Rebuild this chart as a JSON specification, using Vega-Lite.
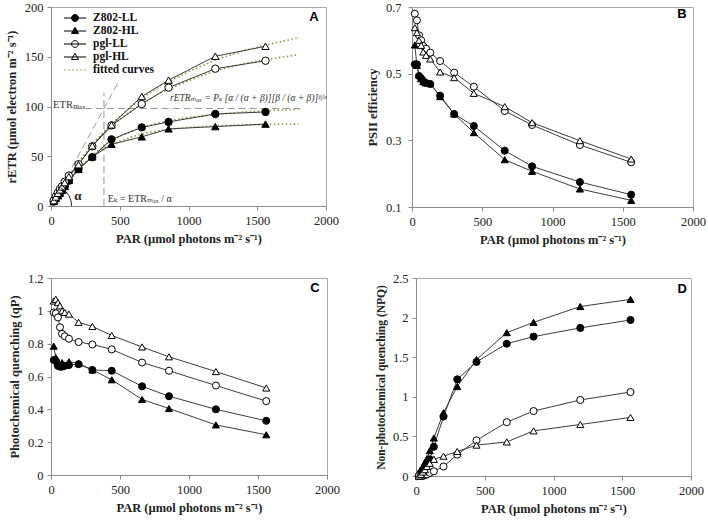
{
  "$schema": "https://vega.github.io/schema/vega-lite/v6.json",
  "padding": {"left": 4, "top": 0, "right": 2, "bottom": 2},
  "background": "white",
  "spacing": 24,
  "config": {
    "font": "Liberation Serif",
    "view": {"stroke": "#a8a8a8", "strokeWidth": 1},
    "axis": {
      "grid": false,
      "domainColor": "#8a8a8a",
      "tickColor": "#8a8a8a",
      "tickSize": 4,
      "labelFont": "Liberation Serif",
      "labelFontSize": 12.5,
      "labelColor": "#222222",
      "labelPadding": 4,
      "labelOverlap": false,
      "labelFlush": false,
      "titleFont": "Liberation Serif",
      "titleFontSize": 12.5,
      "titleFontWeight": "bold",
      "titleColor": "#222222",
      "titlePadding": 6
    },
    "axisX": {"labelFont": "Liberation Serif", "labelOverlap": false, "labelFlush": false},
    "axisY": {"labelFont": "Liberation Serif", "labelOverlap": false},
    "legend": {"padding": 0}
  },
  "datasets": {
    "obs": [
      {"series": "Z802-LL", "par": 20, "etr": 4.5, "phi": 0.528, "qp": 0.70, "npq": 0.0},
      {"series": "Z802-LL", "par": 35, "etr": 7.7, "phi": 0.528, "qp": 0.695, "npq": 0.04},
      {"series": "Z802-LL", "par": 50, "etr": 10.4, "phi": 0.493, "qp": 0.665, "npq": 0.08},
      {"series": "Z802-LL", "par": 65, "etr": 13.3, "phi": 0.486, "qp": 0.66, "npq": 0.12},
      {"series": "Z802-LL", "par": 80, "etr": 16, "phi": 0.478, "qp": 0.66, "npq": 0.16},
      {"series": "Z802-LL", "par": 100, "etr": 19.7, "phi": 0.472, "qp": 0.665, "npq": 0.21},
      {"series": "Z802-LL", "par": 130, "etr": 25.5, "phi": 0.469, "qp": 0.67, "npq": 0.37},
      {"series": "Z802-LL", "par": 200, "etr": 37, "phi": 0.434, "qp": 0.675, "npq": 0.75},
      {"series": "Z802-LL", "par": 300, "etr": 49, "phi": 0.379, "qp": 0.64, "npq": 1.22},
      {"series": "Z802-LL", "par": 440, "etr": 67, "phi": 0.343, "qp": 0.635, "npq": 1.44},
      {"series": "Z802-LL", "par": 660, "etr": 79, "phi": 0.269, "qp": 0.54, "npq": 1.67},
      {"series": "Z802-LL", "par": 855, "etr": 84.5, "phi": 0.222, "qp": 0.48, "npq": 1.76},
      {"series": "Z802-LL", "par": 1195, "etr": 92.5, "phi": 0.175, "qp": 0.40, "npq": 1.87},
      {"series": "Z802-LL", "par": 1560, "etr": 94.5, "phi": 0.137, "qp": 0.33, "npq": 1.97},
      {"series": "Z802-HL", "par": 20, "etr": 4.9, "phi": 0.586, "qp": 0.785, "npq": 0.0},
      {"series": "Z802-HL", "par": 35, "etr": 7.6, "phi": 0.525, "qp": 0.715, "npq": 0.05},
      {"series": "Z802-HL", "par": 50, "etr": 10.4, "phi": 0.496, "qp": 0.68, "npq": 0.10},
      {"series": "Z802-HL", "par": 65, "etr": 13, "phi": 0.485, "qp": 0.665, "npq": 0.17},
      {"series": "Z802-HL", "par": 80, "etr": 15.8, "phi": 0.476, "qp": 0.685, "npq": 0.22},
      {"series": "Z802-HL", "par": 100, "etr": 19.7, "phi": 0.472, "qp": 0.67, "npq": 0.32},
      {"series": "Z802-HL", "par": 130, "etr": 25.7, "phi": 0.470, "qp": 0.69, "npq": 0.48},
      {"series": "Z802-HL", "par": 200, "etr": 37, "phi": 0.431, "qp": 0.68, "npq": 0.80},
      {"series": "Z802-HL", "par": 300, "etr": 49.5, "phi": 0.379, "qp": 0.64, "npq": 1.13},
      {"series": "Z802-HL", "par": 440, "etr": 62, "phi": 0.323, "qp": 0.58, "npq": 1.47},
      {"series": "Z802-HL", "par": 660, "etr": 69.5, "phi": 0.242, "qp": 0.46, "npq": 1.81},
      {"series": "Z802-HL", "par": 855, "etr": 77.5, "phi": 0.207, "qp": 0.405, "npq": 1.94},
      {"series": "Z802-HL", "par": 1195, "etr": 79.8, "phi": 0.154, "qp": 0.305, "npq": 2.14},
      {"series": "Z802-HL", "par": 1560, "etr": 82.3, "phi": 0.120, "qp": 0.245, "npq": 2.23},
      {"series": "pgl-LL", "par": 20, "etr": 5.7, "phi": 0.680, "qp": 0.99, "npq": 0.0},
      {"series": "pgl-LL", "par": 35, "etr": 9.7, "phi": 0.660, "qp": 0.985, "npq": 0.0},
      {"series": "pgl-LL", "par": 50, "etr": 13.5, "phi": 0.615, "qp": 0.96, "npq": 0.0},
      {"series": "pgl-LL", "par": 65, "etr": 17, "phi": 0.600, "qp": 0.90, "npq": 0.01},
      {"series": "pgl-LL", "par": 80, "etr": 19.8, "phi": 0.583, "qp": 0.86, "npq": 0.02},
      {"series": "pgl-LL", "par": 100, "etr": 24.5, "phi": 0.575, "qp": 0.845, "npq": 0.04},
      {"series": "pgl-LL", "par": 130, "etr": 30.5, "phi": 0.563, "qp": 0.83, "npq": 0.06},
      {"series": "pgl-LL", "par": 200, "etr": 42, "phi": 0.538, "qp": 0.81, "npq": 0.12},
      {"series": "pgl-LL", "par": 300, "etr": 60, "phi": 0.503, "qp": 0.795, "npq": 0.27},
      {"series": "pgl-LL", "par": 440, "etr": 81, "phi": 0.461, "qp": 0.765, "npq": 0.45},
      {"series": "pgl-LL", "par": 660, "etr": 102.5, "phi": 0.388, "qp": 0.685, "npq": 0.68},
      {"series": "pgl-LL", "par": 855, "etr": 119, "phi": 0.346, "qp": 0.635, "npq": 0.82},
      {"series": "pgl-LL", "par": 1195, "etr": 138, "phi": 0.286, "qp": 0.545, "npq": 0.96},
      {"series": "pgl-LL", "par": 1560, "etr": 146, "phi": 0.234, "qp": 0.45, "npq": 1.06},
      {"series": "pgl-HL", "par": 20, "etr": 5.4, "phi": 0.638, "qp": 1.06, "npq": 0.0},
      {"series": "pgl-HL", "par": 35, "etr": 9.1, "phi": 0.623, "qp": 1.07, "npq": 0.02},
      {"series": "pgl-HL", "par": 50, "etr": 12.8, "phi": 0.600, "qp": 1.05, "npq": 0.05},
      {"series": "pgl-HL", "par": 65, "etr": 16.2, "phi": 0.585, "qp": 1.03, "npq": 0.08},
      {"series": "pgl-HL", "par": 80, "etr": 19.2, "phi": 0.565, "qp": 1.0, "npq": 0.12},
      {"series": "pgl-HL", "par": 100, "etr": 23.5, "phi": 0.555, "qp": 0.99, "npq": 0.16},
      {"series": "pgl-HL", "par": 130, "etr": 29.5, "phi": 0.544, "qp": 0.98, "npq": 0.21},
      {"series": "pgl-HL", "par": 200, "etr": 41.5, "phi": 0.505, "qp": 0.93, "npq": 0.25},
      {"series": "pgl-HL", "par": 300, "etr": 60.5, "phi": 0.488, "qp": 0.905, "npq": 0.31},
      {"series": "pgl-HL", "par": 440, "etr": 81.5, "phi": 0.441, "qp": 0.85, "npq": 0.39},
      {"series": "pgl-HL", "par": 660, "etr": 110, "phi": 0.401, "qp": 0.78, "npq": 0.43},
      {"series": "pgl-HL", "par": 855, "etr": 126.5, "phi": 0.353, "qp": 0.72, "npq": 0.57},
      {"series": "pgl-HL", "par": 1195, "etr": 150.5, "phi": 0.299, "qp": 0.63, "npq": 0.65},
      {"series": "pgl-HL", "par": 1560, "etr": 160.5, "phi": 0.244, "qp": 0.53, "npq": 0.74}
    ],
    "fit": [
      {"series": "Z802-LL", "par": 0, "fit": 0}, {"series": "Z802-LL", "par": 100, "fit": 19.5}, {"series": "Z802-LL", "par": 200, "fit": 37}, {"series": "Z802-LL", "par": 300, "fit": 51}, {"series": "Z802-LL", "par": 400, "fit": 62}, {"series": "Z802-LL", "par": 500, "fit": 70}, {"series": "Z802-LL", "par": 600, "fit": 76}, {"series": "Z802-LL", "par": 700, "fit": 80.5}, {"series": "Z802-LL", "par": 800, "fit": 84}, {"series": "Z802-LL", "par": 1000, "fit": 89}, {"series": "Z802-LL", "par": 1200, "fit": 92}, {"series": "Z802-LL", "par": 1400, "fit": 94.5}, {"series": "Z802-LL", "par": 1600, "fit": 96}, {"series": "Z802-LL", "par": 1800, "fit": 97},
      {"series": "Z802-HL", "par": 0, "fit": 0}, {"series": "Z802-HL", "par": 100, "fit": 19.5}, {"series": "Z802-HL", "par": 200, "fit": 37}, {"series": "Z802-HL", "par": 300, "fit": 50}, {"series": "Z802-HL", "par": 400, "fit": 59}, {"series": "Z802-HL", "par": 500, "fit": 65}, {"series": "Z802-HL", "par": 600, "fit": 70}, {"series": "Z802-HL", "par": 700, "fit": 73.5}, {"series": "Z802-HL", "par": 800, "fit": 76}, {"series": "Z802-HL", "par": 1000, "fit": 79}, {"series": "Z802-HL", "par": 1200, "fit": 80.5}, {"series": "Z802-HL", "par": 1400, "fit": 81.5}, {"series": "Z802-HL", "par": 1600, "fit": 82}, {"series": "Z802-HL", "par": 1800, "fit": 82.3},
      {"series": "pgl-LL", "par": 0, "fit": 0}, {"series": "pgl-LL", "par": 100, "fit": 24}, {"series": "pgl-LL", "par": 200, "fit": 44}, {"series": "pgl-LL", "par": 300, "fit": 61}, {"series": "pgl-LL", "par": 400, "fit": 75}, {"series": "pgl-LL", "par": 500, "fit": 87}, {"series": "pgl-LL", "par": 600, "fit": 97}, {"series": "pgl-LL", "par": 700, "fit": 106}, {"series": "pgl-LL", "par": 800, "fit": 114}, {"series": "pgl-LL", "par": 1000, "fit": 126}, {"series": "pgl-LL", "par": 1200, "fit": 136}, {"series": "pgl-LL", "par": 1400, "fit": 143}, {"series": "pgl-LL", "par": 1600, "fit": 148}, {"series": "pgl-LL", "par": 1800, "fit": 152},
      {"series": "pgl-HL", "par": 0, "fit": 0}, {"series": "pgl-HL", "par": 100, "fit": 24}, {"series": "pgl-HL", "par": 200, "fit": 44}, {"series": "pgl-HL", "par": 300, "fit": 62}, {"series": "pgl-HL", "par": 400, "fit": 77}, {"series": "pgl-HL", "par": 500, "fit": 90}, {"series": "pgl-HL", "par": 600, "fit": 102}, {"series": "pgl-HL", "par": 700, "fit": 112}, {"series": "pgl-HL", "par": 800, "fit": 121}, {"series": "pgl-HL", "par": 1000, "fit": 135}, {"series": "pgl-HL", "par": 1200, "fit": 147}, {"series": "pgl-HL", "par": 1400, "fit": 156}, {"series": "pgl-HL", "par": 1600, "fit": 163}, {"series": "pgl-HL", "par": 1800, "fit": 169}
    ],
    "guides": [
      {"par": 165, "g": 98, "par2": 1830, "g2": 98},
      {"par": 385, "g": 0, "par2": 385, "g2": 114},
      {"par": 0, "g": 0, "par2": 495, "g2": 126}
    ],
    "arc": [
      {"k": 1, "par": 150.5, "a": 0},
      {"k": 2, "par": 145.4, "a": 5.4},
      {"k": 3, "par": 130.4, "a": 10.4},
      {"k": 4, "par": 106.4, "a": 14.7},
      {"k": 5, "par": 72, "a": 18.3}
    ]
  },
  "vconcat": [
    {
      "hconcat": [
        {
          "width": 275,
          "height": 199,
          "resolve": {"scale": {"shape": "independent", "fill": "independent", "stroke": "independent"}},
          "layer": [
            {
              "data": {"name": "guides"},
              "mark": {"type": "rule", "color": "#9a9a9a", "strokeDash": [7, 4], "strokeWidth": 1},
              "encoding": {
                "x": {"field": "par", "type": "quantitative", "scale": {"domain": [0, 2000], "nice": false}, "axis": {"values": [0, 500, 1000, 1500, 2000], "format": "d", "labelFont": "Liberation Serif", "labelOverlap": false}, "title": "PAR (µmol photons m⁻² s⁻¹)"},
                "y": {"field": "g", "type": "quantitative", "scale": {"domain": [0, 200], "nice": false}, "axis": {"values": [0, 50, 100, 150, 200], "format": "d", "labelFont": "Liberation Serif", "labelOverlap": false}, "title": "rETR (µmol electron m⁻² s⁻¹)"},
                "x2": {"field": "par2"},
                "y2": {"field": "g2"}
              }
            },
            {
              "data": {"name": "fit"},
              "mark": {"type": "line", "color": "#849a48", "strokeDash": [1.5, 2.5], "strokeWidth": 1.6},
              "encoding": {
                "x": {"field": "par", "type": "quantitative", "title": "PAR (µmol photons m⁻² s⁻¹)"},
                "y": {"field": "fit", "type": "quantitative", "title": "rETR (µmol electron m⁻² s⁻¹)"},
                "detail": {"field": "series"},
                "order": {"field": "par"}
              }
            },
            {
              "data": {"name": "obs"},
              "mark": {"type": "line", "color": "#3d3d38", "strokeWidth": 1},
              "encoding": {
                "x": {"field": "par", "type": "quantitative", "title": "PAR (µmol photons m⁻² s⁻¹)"},
                "y": {"field": "etr", "type": "quantitative", "title": "rETR (µmol electron m⁻² s⁻¹)"},
                "detail": {"field": "series"},
                "order": {"field": "par"}
              }
            },
            {
              "data": {"name": "obs"},
              "mark": {"type": "point", "opacity": 1, "stroke": "black", "strokeWidth": 1, "size": 55},
              "encoding": {
                "x": {"field": "par", "type": "quantitative", "title": "PAR (µmol photons m⁻² s⁻¹)"},
                "y": {"field": "etr", "type": "quantitative", "title": "rETR (µmol electron m⁻² s⁻¹)"},
                "shape": {"field": "series", "scale": {"domain": ["Z802-LL", "Z802-HL", "pgl-LL", "pgl-HL"], "range": ["circle", "triangle-up", "circle", "triangle-up"]}, "legend": null},
                "fill": {"field": "series", "scale": {"domain": ["Z802-LL", "Z802-HL", "pgl-LL", "pgl-HL"], "range": ["black", "black", "white", "white"]}, "legend": null}
              }
            },
            {
              "data": {"name": "arc"},
              "mark": {"type": "line", "color": "#222222", "strokeWidth": 1},
              "encoding": {
                "x": {"field": "par", "type": "quantitative", "title": "PAR (µmol photons m⁻² s⁻¹)"},
                "y": {"field": "a", "type": "quantitative", "title": "rETR (µmol electron m⁻² s⁻¹)"},
                "order": {"field": "k"}
              }
            },
            {
              "data": {"values": [{}]},
              "mark": {"type": "text", "text": "α", "font": "Liberation Serif", "fontSize": 13, "fontWeight": "bold", "align": "center", "baseline": "middle", "color": "#222222"},
              "encoding": {"x": {"datum": 195}, "y": {"datum": 10}}
            },
            {
              "data": {"values": [{}]},
              "mark": {"type": "text", "text": "ETRₘₐₓ", "font": "Liberation Serif, DejaVu Serif", "fontSize": 10.5, "align": "left", "baseline": "middle", "color": "#333333"},
              "encoding": {"x": {"datum": 15}, "y": {"datum": 102}}
            },
            {
              "data": {"values": [{}]},
              "mark": {"type": "text", "text": "rETRₘₐₓ = Pₛ [α / (α + β)][β / (α + β)]ᵝ/ᵅ", "font": "Liberation Serif, DejaVu Serif", "fontSize": 9.5, "fontStyle": "italic", "align": "left", "baseline": "middle", "color": "#333333"},
              "encoding": {"x": {"datum": 866}, "y": {"datum": 109}}
            },
            {
              "data": {"values": [{}]},
              "mark": {"type": "text", "text": "Eₖ = ETRₘₐₓ / α", "font": "Liberation Serif, DejaVu Serif", "fontSize": 10, "align": "left", "baseline": "middle", "color": "#333333"},
              "encoding": {"x": {"datum": 412}, "y": {"datum": 7}}
            },
            {
              "data": {"values": [{}]},
              "mark": {"type": "text", "text": "A", "font": "Liberation Sans", "fontSize": 13, "fontWeight": "bold", "align": "center", "baseline": "middle", "color": "black"},
              "encoding": {"x": {"datum": 1913}, "y": {"datum": 190}}
            },
            {
              "data": {"name": "obs"},
              "transform": [{"filter": "datum.par < 0"}],
              "mark": {"type": "point", "opacity": 1, "strokeWidth": 1},
              "encoding": {
                "shape": {
                  "field": "series",
                  "scale": {
                    "domain": ["Z802-LL", "Z802-HL", "pgl-LL", "pgl-HL", "fitted curves"],
                    "range": [
                      "M -2 0 L 2 0 M 0.62 0 A 0.62 0.62 0 1 1 -0.62 0 A 0.62 0.62 0 1 1 0.62 0",
                      "M -2 0 L 2 0 M 0 -0.68 L 0.64 0.46 L -0.64 0.46 Z",
                      "M -2 0 L 2 0 M 0.62 0 A 0.62 0.62 0 1 1 -0.62 0 A 0.62 0.62 0 1 1 0.62 0",
                      "M -2 0 L 2 0 M 0 -0.68 L 0.64 0.46 L -0.64 0.46 Z",
                      "M -2 0 L -1.7 0 M -1.25 0 L -0.95 0 M -0.5 0 L -0.2 0 M 0.25 0 L 0.55 0 M 1 0 L 1.3 0 M 1.75 0 L 2.05 0"
                    ]
                  },
                  "legend": {
                    "title": null,
                    "orient": "none",
                    "legendX": 18,
                    "legendY": 5,
                    "symbolSize": 121,
                    "labelOffset": 12,
                    "labelFont": "Liberation Serif",
                    "labelFontSize": 11.5,
                    "labelFontWeight": "bold",
                    "labelColor": "#111111",
                    "rowPadding": 1,
                    "symbolStrokeWidth": 1,
                    "symbolOpacity": 1,
                    "encode": {
                      "labels": {"fontStyle": {"condition": {"test": "indexof(datum.label, 'pgl') === 0", "value": "italic"}, "value": "normal"}}
                    }
                  }
                },
                "fill": {
                  "field": "series",
                  "scale": {"domain": ["Z802-LL", "Z802-HL", "pgl-LL", "pgl-HL", "fitted curves"], "range": ["black", "black", "white", "white", "transparent"]},
                  "legend": {"title": null, "orient": "none", "legendX": 18, "legendY": 5, "symbolSize": 121, "labelOffset": 12}
                },
                "stroke": {
                  "field": "series",
                  "scale": {"domain": ["Z802-LL", "Z802-HL", "pgl-LL", "pgl-HL", "fitted curves"], "range": ["black", "black", "black", "black", "#849a48"]},
                  "legend": {"title": null, "orient": "none", "legendX": 18, "legendY": 5, "symbolSize": 121, "labelOffset": 12}
                }
              }
            }
          ]
        },
        {
          "width": 281,
          "height": 200,
          "encoding": {
            "x": {"field": "par", "type": "quantitative", "scale": {"domain": [0, 2000], "nice": false}, "axis": {"values": [0, 500, 1000, 1500, 2000], "format": "d", "labelOverlap": false}, "title": "PAR (µmol photons m⁻² s⁻¹)"},
            "y": {"field": "phi", "type": "quantitative", "scale": {"domain": [0.1, 0.7], "nice": false, "zero": false}, "axis": {"values": [0.1, 0.3, 0.5, 0.7], "format": "~g", "labelOverlap": false, "labelPadding": 7}, "title": "PSII efficiency"}
          },
          "layer": [
            {
              "data": {"name": "obs"},
              "mark": {"type": "line", "color": "#3d3d38", "strokeWidth": 1},
              "encoding": {"detail": {"field": "series"}, "order": {"field": "par"}}
            },
            {
              "data": {"name": "obs"},
              "mark": {"type": "point", "opacity": 1, "stroke": "black", "strokeWidth": 1, "size": 50},
              "encoding": {
                "shape": {"field": "series", "scale": {"domain": ["Z802-LL", "Z802-HL", "pgl-LL", "pgl-HL"], "range": ["circle", "triangle-up", "circle", "triangle-up"]}, "legend": null},
                "fill": {"field": "series", "scale": {"domain": ["Z802-LL", "Z802-HL", "pgl-LL", "pgl-HL"], "range": ["black", "black", "white", "white"]}, "legend": null}
              }
            },
            {
              "data": {"values": [{"par": 1922, "phi": 0.679}]},
              "mark": {"type": "text", "text": "B", "font": "Liberation Sans", "fontSize": 13, "fontWeight": "bold", "align": "center", "baseline": "middle", "color": "black"}
            }
          ]
        }
      ],
      "spacing": 86,
      "bounds": "flush"
    },
    {
      "hconcat": [
        {
          "width": 276,
          "height": 197,
          "encoding": {
            "x": {"field": "par", "type": "quantitative", "scale": {"domain": [0, 2000], "nice": false}, "axis": {"values": [0, 500, 1000, 1500, 2000], "format": "d", "labelOverlap": false}, "title": "PAR (µmol photons m⁻² s⁻¹)"},
            "y": {"field": "qp", "type": "quantitative", "scale": {"domain": [0, 1.2], "nice": false}, "axis": {"values": [0, 0.2, 0.4, 0.6, 0.8, 1, 1.2], "format": "~g", "labelOverlap": false}, "title": "Photochemical quenching (qP)"}
          },
          "layer": [
            {
              "data": {"name": "obs"},
              "mark": {"type": "line", "color": "#3d3d38", "strokeWidth": 1},
              "encoding": {"detail": {"field": "series"}, "order": {"field": "par"}}
            },
            {
              "data": {"name": "obs"},
              "mark": {"type": "point", "opacity": 1, "stroke": "black", "strokeWidth": 1, "size": 50},
              "encoding": {
                "shape": {"field": "series", "scale": {"domain": ["Z802-LL", "Z802-HL", "pgl-LL", "pgl-HL"], "range": ["circle", "triangle-up", "circle", "triangle-up"]}, "legend": null},
                "fill": {"field": "series", "scale": {"domain": ["Z802-LL", "Z802-HL", "pgl-LL", "pgl-HL"], "range": ["black", "black", "white", "white"]}, "legend": null}
              }
            },
            {
              "data": {"values": [{"par": 1913, "qp": 1.14}]},
              "mark": {"type": "text", "text": "C", "font": "Liberation Sans", "fontSize": 13, "fontWeight": "bold", "align": "center", "baseline": "middle", "color": "black"}
            }
          ]
        },
        {
          "width": 275,
          "height": 198,
          "encoding": {
            "x": {"field": "par", "type": "quantitative", "scale": {"domain": [0, 2000], "nice": false}, "axis": {"values": [0, 500, 1000, 1500, 2000], "format": "d", "labelOverlap": false}, "title": "PAR (µmol photons m⁻² s⁻¹)"},
            "y": {"field": "npq", "type": "quantitative", "scale": {"domain": [0, 2.5], "nice": false}, "axis": {"values": [0, 0.5, 1, 1.5, 2, 2.5], "format": "~g", "labelOverlap": false, "titleFontSize": 11.5}, "title": "Non-photochemical quenching (NPQ)"}
          },
          "layer": [
            {
              "data": {"name": "obs"},
              "mark": {"type": "line", "color": "#3d3d38", "strokeWidth": 1},
              "encoding": {"detail": {"field": "series"}, "order": {"field": "par"}}
            },
            {
              "data": {"name": "obs"},
              "mark": {"type": "point", "opacity": 1, "stroke": "black", "strokeWidth": 1, "size": 50},
              "encoding": {
                "shape": {"field": "series", "scale": {"domain": ["Z802-LL", "Z802-HL", "pgl-LL", "pgl-HL"], "range": ["circle", "triangle-up", "circle", "triangle-up"]}, "legend": null},
                "fill": {"field": "series", "scale": {"domain": ["Z802-LL", "Z802-HL", "pgl-LL", "pgl-HL"], "range": ["black", "black", "white", "white"]}, "legend": null}
              }
            },
            {
              "data": {"values": [{"par": 1935, "npq": 2.36}]},
              "mark": {"type": "text", "text": "D", "font": "Liberation Sans", "fontSize": 13, "fontWeight": "bold", "align": "center", "baseline": "middle", "color": "black"}
            }
          ]
        }
      ],
      "spacing": 89,
      "bounds": "flush"
    }
  ]
}
